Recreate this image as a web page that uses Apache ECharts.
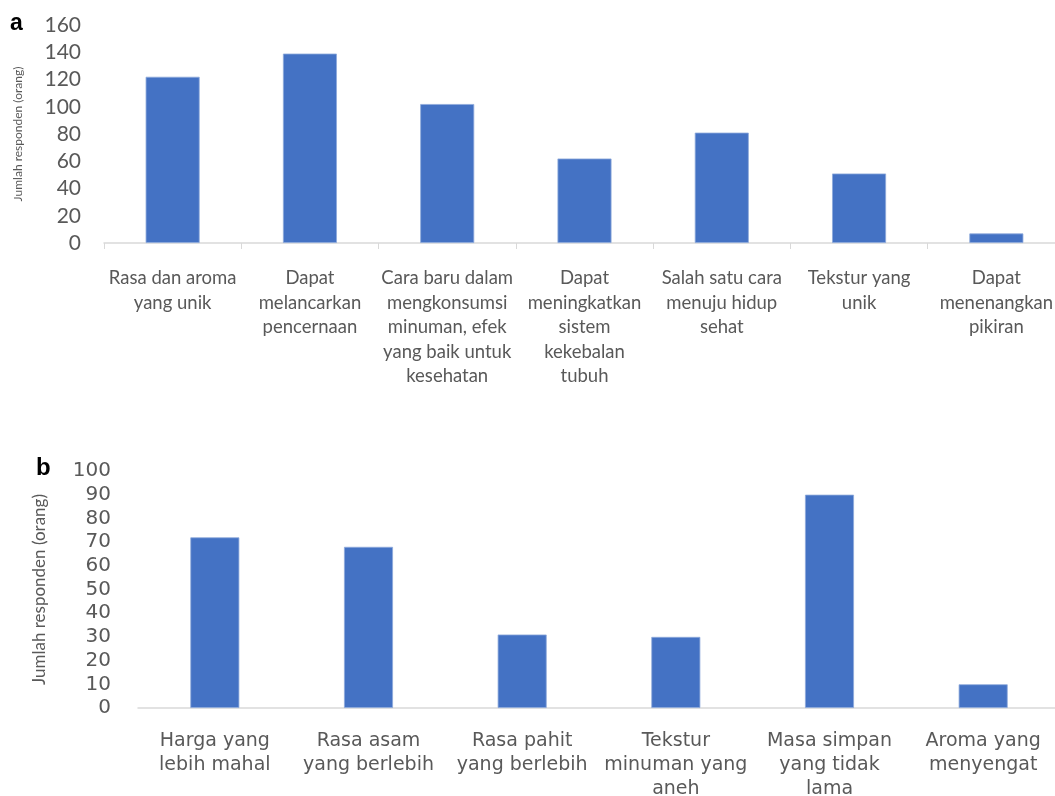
<!DOCTYPE html>
<html>
<head>
<meta charset="utf-8">
<script src="https://cdn.jsdelivr.net/npm/echarts@6/dist/echarts.min.js"></script>
<style>html,body{margin:0;padding:0;background:#fff}#c{width:1055px;height:796px}</style>
</head>
<body>
<div id="c"></div>
<script>
const categoriesA = [
  "Rasa dan aroma\nyang unik",
  "Dapat\nmelancarkan\npencernaan",
  "Cara baru dalam\nmengkonsumsi\nminuman, efek\nyang baik untuk\nkesehatan",
  "Dapat\nmeningkatkan\nsistem\nkekebalan\ntubuh",
  "Salah satu cara\nmenuju hidup\nsehat",
  "Tekstur yang\nunik",
  "Dapat\nmenenangkan\npikiran"
];
const valuesA = [122, 139, 102, 62, 81, 51, 7];

const categoriesB = [
  "Harga yang\nlebih mahal",
  "Rasa asam\nyang berlebih",
  "Rasa pahit\nyang berlebih",
  "Tekstur\nminuman yang\naneh",
  "Masa simpan\nyang tidak\nlama",
  "Aroma yang\nmenyengat"
];
const valuesB = [72, 68, 31, 30, 90, 10];

const yNameA = "Jumlah responden (orang)";
const yNameB = "Jumlah responden (orang)";

const txt = '#595959';
const axisGray = '#d9d9d9';
const barColor = '#4472C4';
const fontA = 'Lato, "Open Sans", sans-serif';
const fontB = '"DejaVu Sans", Verdana, sans-serif';

const chart = echarts.init(document.getElementById('c'), null, {renderer: 'canvas'});
chart.setOption({
  animation: false,
  backgroundColor: '#fff',
  graphic: [
    {type: 'text', left: 10, top: 12, style: {text: 'a', font: 'bold 23px Arial, "Liberation Sans", sans-serif', fill: '#000'}},
    {type: 'text', left: 36, top: 456, style: {text: 'b', font: 'bold 24px Arial, "Liberation Sans", sans-serif', fill: '#000'}}
  ],
  grid: [
    {left: 104, top: 25, height: 218, right: -10, containLabel: false, outerBoundsMode: 'none'},
    {left: 138, top: 471, height: 237, right: -5, containLabel: false, outerBoundsMode: 'none'}
  ],
  xAxis: [
    {
      type: 'category', gridIndex: 0, data: categoriesA,
      axisLine: {lineStyle: {color: axisGray, width: 1.5}},
      axisTick: {show: true, length: 6, lineStyle: {color: axisGray}},
      axisLabel: {color: txt, fontFamily: fontA, fontSize: 18.5, lineHeight: 24.5, margin: 23, interval: 0}
    },
    {
      type: 'category', gridIndex: 1, data: categoriesB,
      axisLine: {lineStyle: {color: axisGray, width: 1.5}},
      axisTick: {show: false},
      axisLabel: {color: txt, fontFamily: fontB, fontSize: 19, lineHeight: 24, margin: 21, interval: 0}
    }
  ],
  yAxis: [
    {
      type: 'value', gridIndex: 0, min: 0, max: 160, interval: 20,
      name: yNameA, nameLocation: 'middle', nameGap: 80, nameRotate: 90,
      nameTextStyle: {color: txt, fontFamily: fontA, fontSize: 12},
      axisLine: {show: false}, axisTick: {show: false}, splitLine: {show: false},
      axisLabel: {color: txt, fontFamily: fontA, fontSize: 21, margin: 23}
    },
    {
      type: 'value', gridIndex: 1, min: 0, max: 100, interval: 10,
      name: yNameB, nameLocation: 'middle', nameGap: 90, nameRotate: 90,
      nameTextStyle: {color: txt, fontFamily: fontA, fontSize: 17},
      axisLine: {show: false}, axisTick: {show: false}, splitLine: {show: false},
      axisLabel: {color: txt, fontFamily: fontB, fontSize: 20, margin: 27}
    }
  ],
  series: [
    {type: 'bar', xAxisIndex: 0, yAxisIndex: 0, data: valuesA, barWidth: 54,
     itemStyle: {color: barColor, borderColor: '#8eaadb', borderWidth: 0.8}},
    {type: 'bar', xAxisIndex: 1, yAxisIndex: 1, data: valuesB, barWidth: 49,
     itemStyle: {color: barColor, borderColor: '#8eaadb', borderWidth: 0.8}}
  ]
});
</script>
</body>
</html>
